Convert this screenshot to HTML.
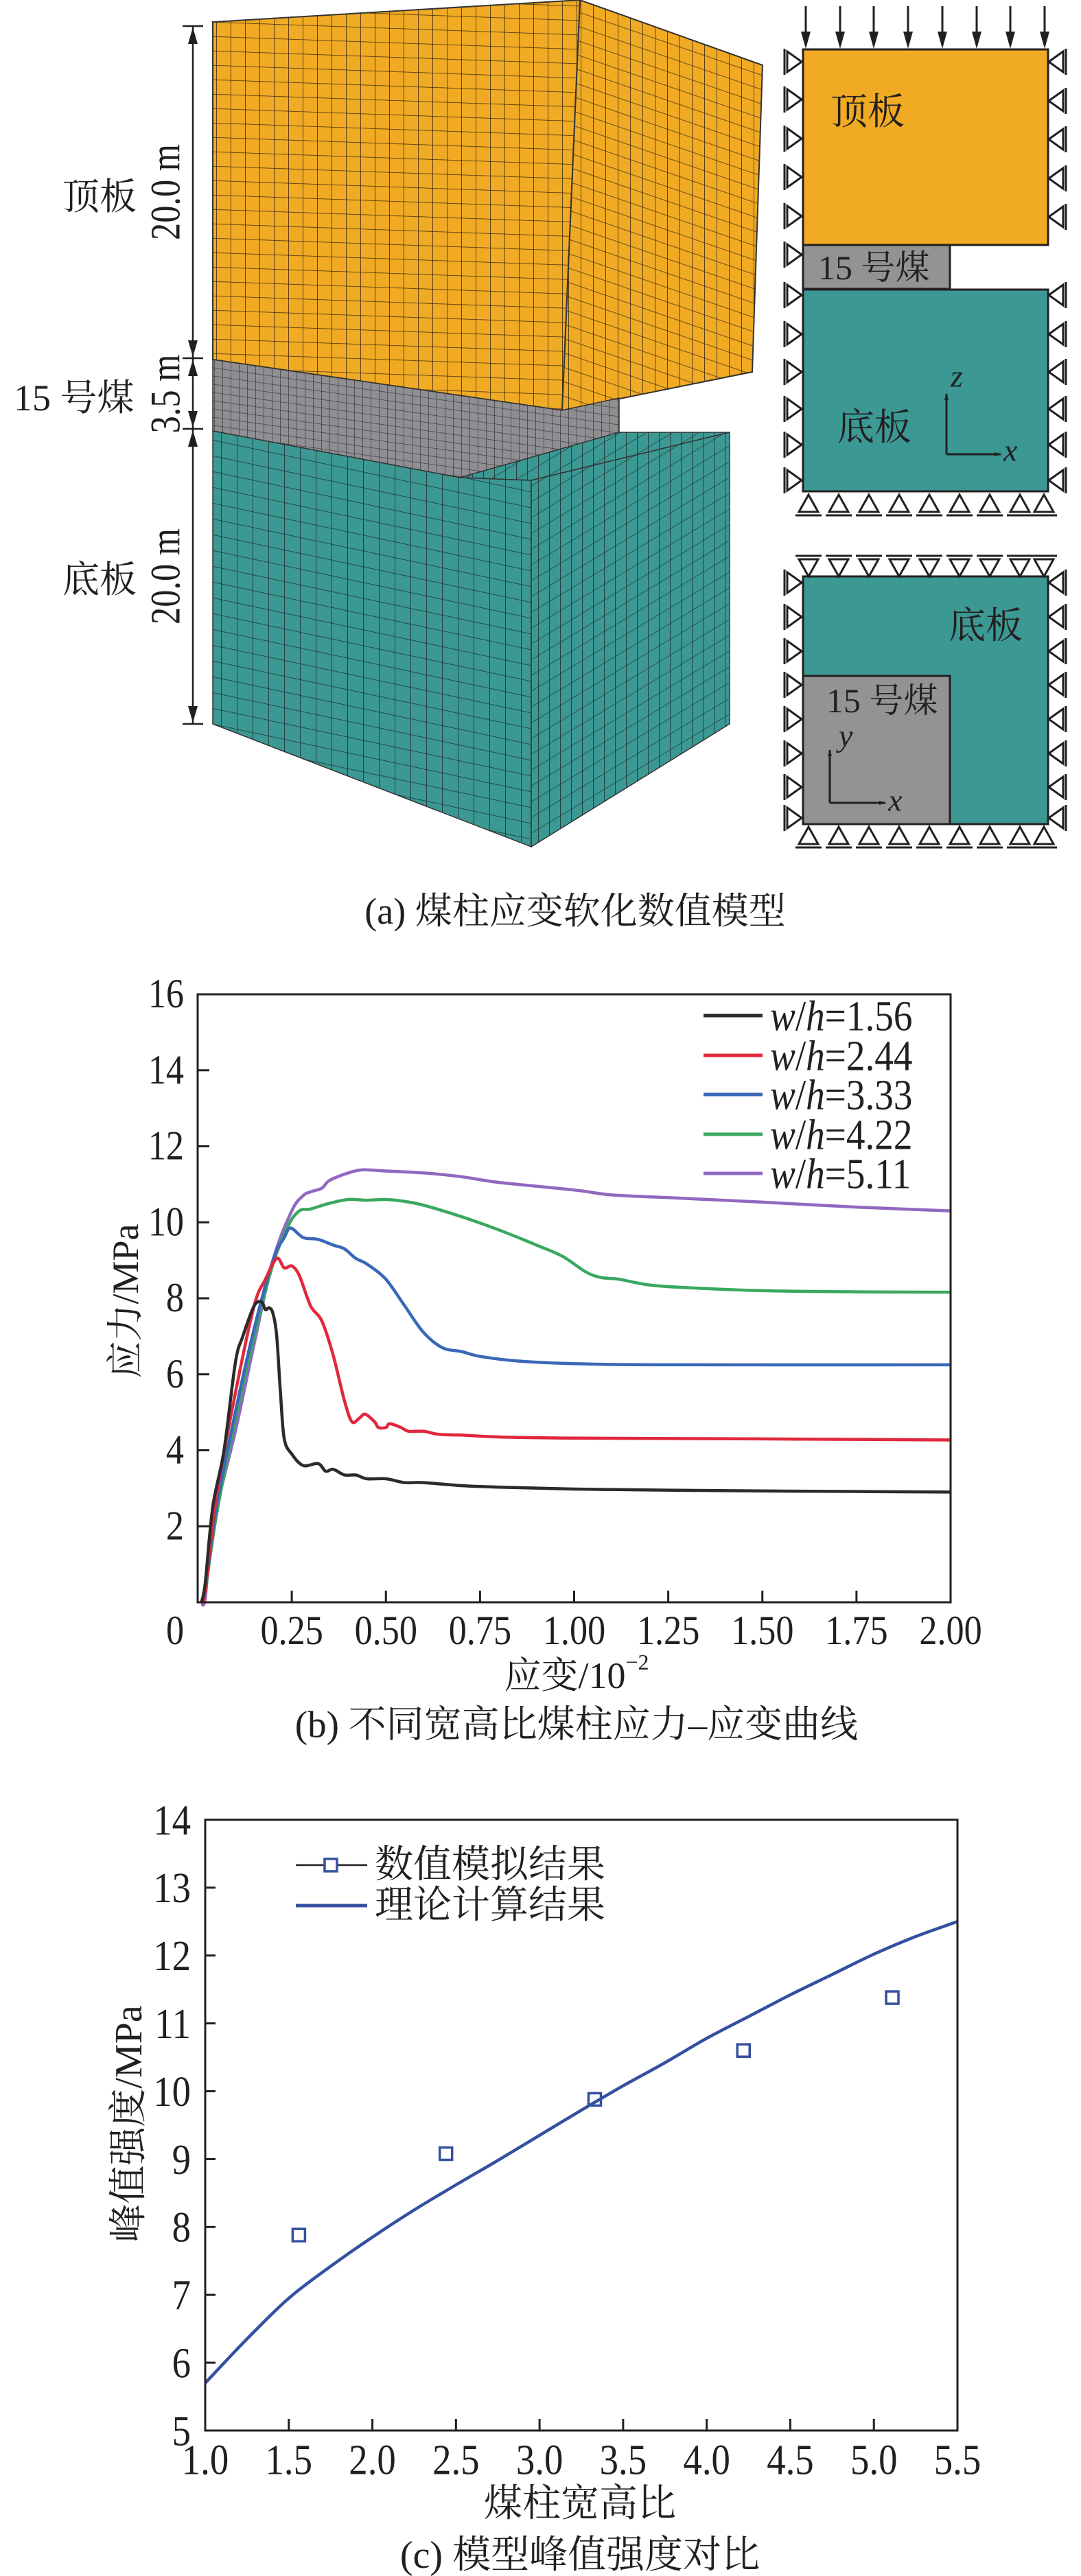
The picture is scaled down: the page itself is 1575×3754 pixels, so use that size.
<!DOCTYPE html>
<html><head><meta charset="utf-8">
<style>
body{margin:0;background:#fff}
svg{display:block}
.t{font-family:"Liberation Serif","Noto Serif CJK SC",serif;fill:#231f20}
</style></head>
<body>
<svg id="fig" width="1575" height="3754" viewBox="0 0 1575 3754" xmlns="http://www.w3.org/2000/svg">
<defs>
<pattern id="gO" width="21" height="21" patternUnits="userSpaceOnUse" patternTransform="skewY(2)"><rect width="21" height="21" fill="#F0AA24"/><path d="M0 0H21M0 0V21" stroke="#3a2a10" stroke-width="1.6"/></pattern>
<pattern id="gO2" width="18" height="21" patternUnits="userSpaceOnUse" patternTransform="skewY(19)"><rect width="18" height="21" fill="#F0AA24"/><path d="M0 0H18M0 0V21" stroke="#3a2a10" stroke-width="1.6"/></pattern>
<pattern id="gG" width="12" height="12" patternUnits="userSpaceOnUse" patternTransform="skewY(8)"><rect width="12" height="12" fill="#8f8f93"/><path d="M0 0H12M0 0V12" stroke="#333" stroke-width="1.3"/></pattern>
<pattern id="gT" width="23" height="23" patternUnits="userSpaceOnUse" patternTransform="skewY(12)"><rect width="23" height="23" fill="#3C9893"/><path d="M0 0H23M0 0V23" stroke="#1d2f2e" stroke-width="1.6"/></pattern>
<pattern id="gT2" width="16" height="23" patternUnits="userSpaceOnUse" patternTransform="skewY(-31)"><rect width="16" height="23" fill="#3C9893"/><path d="M0 0H16M0 0V23" stroke="#1d2f2e" stroke-width="1.6"/></pattern>
<marker id="ah" viewBox="0 0 10 10" refX="9" refY="5" markerWidth="10" markerHeight="10" orient="auto" markerUnits="userSpaceOnUse"><path d="M0 2L10 5L0 8Z" fill="#231f20"/></marker>
</defs>

<g>
<polygon points="310,32 845,0 819,598 310,524" fill="url(#gO)" stroke="#333" stroke-width="2"/>
<polygon points="845,0 1111,95 1096,542 819,598" fill="url(#gO2)" stroke="#333" stroke-width="2"/>
<polygon points="310,524 819,598 902,580 902,632 670,696 310,628" fill="url(#gG)" stroke="#333" stroke-width="1.5"/>
<polygon points="670,696 902,630 1063,630 774,700" fill="url(#gT2)" stroke="#333" stroke-width="1.5"/>
<polygon points="310,628 670,696 774,700 774,1234 310,1055" fill="url(#gT)" stroke="#333" stroke-width="1.5"/>
<polygon points="774,700 1063,630 1063,1055 774,1234" fill="url(#gT2)" stroke="#333" stroke-width="1.5"/>
</g>
<g stroke="#231f20" stroke-width="2.5">
<line x1="281" y1="38" x2="281" y2="1055"/>
<line x1="266" y1="38" x2="296" y2="38"/>
<line x1="266" y1="522" x2="296" y2="522"/>
<line x1="266" y1="625" x2="296" y2="625"/>
<line x1="266" y1="1055" x2="296" y2="1055"/>
<path d="M281 40l-7 24h14zM281 520l-7 -24h14zM281 524l-7 24h14zM281 623l-7 -24h14zM281 627l-7 24h14zM281 1053l-7 -24h14z" fill="#231f20" stroke="none"/>
</g>
<text class="t" transform="translate(242,280) rotate(-90) scale(0.9,1.1)" font-size="56" text-anchor="middle" dominant-baseline="central">20.0 m</text>
<text class="t" transform="translate(242,574) rotate(-90) scale(0.9,1.1)" font-size="56" text-anchor="middle" dominant-baseline="central">3.5 m</text>
<text class="t" transform="translate(242,840) rotate(-90) scale(0.9,1.1)" font-size="56" text-anchor="middle" dominant-baseline="central">20.0 m</text>
<text class="t" x="91" y="287" font-size="54" dominant-baseline="central">顶板</text>
<text class="t" x="20" y="580" font-size="54" dominant-baseline="central">15 号煤</text>
<text class="t" x="91" y="845" font-size="54" dominant-baseline="central">底板</text>

<g id="diag">
<rect x="1170" y="72" width="357" height="285" fill="#F0AA24" stroke="#231f20" stroke-width="3"/>
<rect x="1170" y="357" width="214" height="64" fill="#939393" stroke="#231f20" stroke-width="3"/>
<rect x="1170" y="422" width="357" height="294" fill="#3C9893" stroke="#231f20" stroke-width="3"/>
<text class="t" x="1210" y="163" font-size="54" dominant-baseline="central">顶板</text>
<text class="t" x="1192" y="390" font-size="50" dominant-baseline="central">15 号煤</text>
<text class="t" x="1220" y="623" font-size="54" dominant-baseline="central">底板</text>
<line x1="1379" y1="662" x2="1379" y2="574" stroke="#231f20" stroke-width="3" marker-end="url(#ah)"/>
<line x1="1379" y1="662" x2="1458" y2="662" stroke="#231f20" stroke-width="3" marker-end="url(#ah)"/>
<text class="t" x="1385" y="548" font-size="46" font-style="italic" dominant-baseline="central">z</text>
<text class="t" x="1462" y="656" font-size="46" font-style="italic" dominant-baseline="central">x</text>

<rect x="1170" y="840" width="357" height="361" fill="#3C9893" stroke="#231f20" stroke-width="3"/>
<rect x="1170" y="985" width="214" height="216" fill="#939393" stroke="#231f20" stroke-width="3"/>
<text class="t" x="1382" y="912" font-size="54" dominant-baseline="central">底板</text>
<text class="t" x="1204" y="1021" font-size="50" dominant-baseline="central">15 号煤</text>
<line x1="1209" y1="1170" x2="1209" y2="1093" stroke="#231f20" stroke-width="3" marker-end="url(#ah)"/>
<line x1="1209" y1="1170" x2="1290" y2="1170" stroke="#231f20" stroke-width="3" marker-end="url(#ah)"/>
<text class="t" x="1222" y="1072" font-size="46" font-style="italic" dominant-baseline="central">y</text>
<text class="t" x="1294" y="1166" font-size="46" font-style="italic" dominant-baseline="central">x</text>
</g>
<text class="t" x="838" y="1328" font-size="54" text-anchor="middle" dominant-baseline="central">(a) 煤柱应变软化数值模型</text>

<g id="chartB"></g>
<g id="chartC"></g>
</svg>

<script>
// ---- chart (b) data ----
const bLabels = ["w/h=1.56","w/h=2.44","w/h=3.33","w/h=4.22","w/h=5.11"];
const bColors = ["#2b2b2b","#e0283c","#3a68b8","#3aa860","#9168c0"];
const bStrain1 = [0.01,0.02,0.04,0.07,0.1,0.12,0.15,0.17,0.18,0.19,0.2,0.21,0.22,0.23,0.25,0.28,0.32,0.34,0.36,0.39,0.42,0.45,0.5,0.55,0.6,0.7,0.8,1.0,1.25,1.5,2.0];
const bStress1 = [0,0.5,2.5,4,6.3,7.0,7.8,7.9,7.7,7.75,7.6,7.0,5.5,4.3,3.9,3.6,3.65,3.45,3.5,3.35,3.35,3.25,3.25,3.15,3.15,3.07,3.03,2.98,2.95,2.93,2.9];
const bStrain2 = [0.01,0.02,0.05,0.1,0.15,0.18,0.21,0.23,0.25,0.27,0.3,0.33,0.36,0.39,0.41,0.43,0.445,0.47,0.48,0.5,0.51,0.54,0.56,0.6,0.64,0.7,0.8,1.0,1.5,2.0];
const bStress2 = [0,0.3,2.8,5.5,7.8,8.5,9.05,8.8,8.85,8.6,7.8,7.4,6.5,5.3,4.75,4.85,4.95,4.75,4.6,4.6,4.7,4.6,4.5,4.5,4.42,4.4,4.35,4.32,4.3,4.27];
const bStrain3 = [0.01,0.02,0.05,0.1,0.15,0.2,0.23,0.247,0.28,0.32,0.36,0.39,0.42,0.45,0.5,0.55,0.6,0.65,0.7,0.75,0.85,1.0,1.25,2.0];
const bStress3 = [0,0.3,2.5,5,7.2,9.0,9.6,9.85,9.6,9.55,9.4,9.3,9.05,8.9,8.5,7.8,7.1,6.7,6.6,6.47,6.35,6.28,6.25,6.25];
const bStrain4 = [0.01,0.02,0.05,0.1,0.15,0.2,0.24,0.27,0.3,0.35,0.4,0.45,0.5,0.55,0.6,0.7,0.8,0.9,0.97,1.03,1.07,1.12,1.2,1.3,1.5,1.75,2.0];
const bStress4 = [0,0.3,2.3,4.8,7,8.9,9.9,10.3,10.35,10.5,10.6,10.58,10.6,10.55,10.45,10.15,9.8,9.4,9.1,8.7,8.55,8.5,8.35,8.28,8.2,8.17,8.16];
const bStrain5 = [0.01,0.02,0.04,0.1,0.15,0.2,0.25,0.28,0.3,0.33,0.35,0.4,0.44,0.5,0.6,0.7,0.8,1.0,1.1,1.25,1.5,1.75,2.0];
const bStress5 = [0,0.1,2,4.5,6.8,9,10.3,10.7,10.8,10.9,11.1,11.3,11.38,11.35,11.3,11.2,11.05,10.85,10.72,10.65,10.53,10.4,10.3];
const bXTicks = [0.25,0.5,0.75,1.0,1.25,1.5,1.75,2.0];
const bXTickLabels = ["0.25","0.50","0.75","1.00","1.25","1.50","1.75","2.00"];
const bYTicks = [2,4,6,8,10,12,14,16];

// ---- chart (c) data ----
const cRatio = [1.56,2.44,3.33,4.22,5.11];
const cSim = [7.88,9.08,9.88,10.6,11.38];
const cTheoryX = [1.0,1.25,1.5,1.75,2.0,2.25,2.5,2.75,3.0,3.25,3.5,3.75,4.0,4.25,4.5,4.75,5.0,5.25,5.5];
const cTheoryY = [5.7,6.35,6.95,7.42,7.85,8.25,8.62,8.98,9.35,9.72,10.08,10.42,10.78,11.1,11.42,11.72,12.02,12.28,12.5];
const cXTicks = [1.0,1.5,2.0,2.5,3.0,3.5,4.0,4.5,5.0,5.5];
const cYTicks = [5,6,7,8,9,10,11,12,13,14];

const NS = "http://www.w3.org/2000/svg";
function mk(parent, tag, attrs, txt){
  const e = document.createElementNS(NS, tag);
  for (const k in attrs) e.setAttribute(k, attrs[k]);
  if (txt !== undefined) e.textContent = txt;
  parent.appendChild(e);
  return e;
}
function numText(parent, x, y, size, anchor, str){
  return mk(parent,"text",{class:"t",transform:"translate("+x+","+y+") scale(0.87,1)","font-size":size,"text-anchor":anchor,"dominant-baseline":"central"}, str);
}
function smooth(pts){
  let d = "M" + pts[0][0].toFixed(1) + " " + pts[0][1].toFixed(1);
  for (let i=0;i<pts.length-1;i++){
    const p0=pts[Math.max(0,i-1)], p1=pts[i], p2=pts[i+1], p3=pts[Math.min(pts.length-1,i+2)];
    const c1x=p1[0]+(p2[0]-p0[0])/6, c1y=p1[1]+(p2[1]-p0[1])/6;
    const c2x=p2[0]-(p3[0]-p1[0])/6, c2y=p2[1]-(p3[1]-p1[1])/6;
    d += "C"+c1x.toFixed(1)+" "+c1y.toFixed(1)+" "+c2x.toFixed(1)+" "+c2y.toFixed(1)+" "+p2[0].toFixed(1)+" "+p2[1].toFixed(1);
  }
  return d;
}

(function(){
  const g = document.getElementById("chartB");
  const L=288,R=1385,T=1449,B=2335;
  const xS = v => L + v/2.0*(R-L);
  const yS = v => B - v/16*(B-T);
  let e;
  bYTicks.forEach(v=>{
    if (v<16){
      e = mk(g,"line",{x1:L,y1:yS(v),x2:L+17,y2:yS(v),stroke:"#231f20","stroke-width":3});
      
      
    }
    e = numText(g, 268, yS(v), 60, "end", String(v));
    
    
  });
  bXTicks.forEach((v,i)=>{
    if (v<2){
      e = mk(g,"line",{x1:xS(v),y1:B,x2:xS(v),y2:B-17,stroke:"#231f20","stroke-width":3});
      
      
    }
    e = numText(g, xS(v), 2377, 60, "middle", bXTickLabels[i]);
    
    
  });
  e = numText(g, 255, 2377, 60, "middle", "0");
  
  

  const xs=[bStrain1,bStrain2,bStrain3,bStrain4,bStrain5], ys=[bStress1,bStress2,bStress3,bStress4,bStress5];
  [4,3,2,1,0].forEach(i=>{
    const pts = xs[i].map((x,j)=>[xS(x),yS(ys[i][j])]);
    e = mk(g,"path",{d:smooth(pts),fill:"none",stroke:bColors[i],"stroke-width":4.5,"stroke-linejoin":"round"});
    
    
  });
  e = mk(g,"rect",{x:L,y:T,width:R-L,height:B-T,fill:"none",stroke:"#231f20","stroke-width":3});
  
  

  const lg = mk(g,"g",{});
  
  
  const rows=[1480,1538,1595,1653,1710];
  bLabels.forEach((lab,i)=>{
    e = mk(lg,"line",{x1:1025,y1:rows[i],x2:1111,y2:rows[i],stroke:bColors[i],"stroke-width":5});
    
    
    const t = mk(lg,"text",{class:"t",transform:"translate(1122,"+rows[i]+") scale(0.92,1.05)","font-size":60,"dominant-baseline":"central"});
    
    
    mk(t,"tspan",{"font-style":"italic"},"w");
    mk(t,"tspan",{},"/");
    mk(t,"tspan",{"font-style":"italic"},"h");
    mk(t,"tspan",{},lab.slice(3));
  });
  e = mk(g,"text",{class:"t",transform:"translate(183,1896) rotate(-90)","font-size":54,"text-anchor":"middle","dominant-baseline":"central"},"应力/MPa");
  
  
  const xt = mk(g,"text",{class:"t",x:840,y:2442,"font-size":54,"text-anchor":"middle","dominant-baseline":"central"});
  
  
  mk(xt,"tspan",{},"应变/10");
  mk(xt,"tspan",{"font-size":32,dy:-20},"−2");
  e = mk(g,"text",{class:"t",x:840,y:2513,"font-size":55,"text-anchor":"middle","dominant-baseline":"central"},"(b) 不同宽高比煤柱应力–应变曲线");
  
  
})();

(function(){
  const g = document.getElementById("chartC");
  const L=299,R=1395,T=2652,B=3542;
  const xS = v => L + (v-1.0)/4.5*(R-L);
  const yS = v => B - (v-5)/9*(B-T);
  let e;
  cYTicks.forEach(v=>{
    if (v>5 && v<14){
      e = mk(g,"line",{x1:L,y1:yS(v),x2:L+15,y2:yS(v),stroke:"#231f20","stroke-width":3});
      
      
    }
    e = numText(g, 278, yS(v), 63, "end", String(v));
    
    
  });
  cXTicks.forEach(v=>{
    if (v>1 && v<5.5){
      e = mk(g,"line",{x1:xS(v),y1:B,x2:xS(v),y2:B-17,stroke:"#231f20","stroke-width":3});
      
      
    }
    e = numText(g, xS(v), 3584, 63, "middle", v.toFixed(1));
    
    
  });
  const pts = cTheoryX.map((x,j)=>[xS(x),yS(cTheoryY[j])]);
  e = mk(g,"path",{d:smooth(pts),fill:"none",stroke:"#3450a0","stroke-width":4.5});
  
  
  cRatio.forEach((x,i)=>{
    e = mk(g,"rect",{x:xS(x)-9,y:yS(cSim[i])-9,width:18,height:18,fill:"none",stroke:"#3450a0","stroke-width":3.5});
    
    
  });
  e = mk(g,"rect",{x:L,y:T,width:R-L,height:B-T,fill:"none",stroke:"#231f20","stroke-width":3});
  
  
  const lg = mk(g,"g",{});
  
  
  e = mk(lg,"line",{x1:431,y1:2718,x2:535,y2:2718,stroke:"#231f20","stroke-width":2.5});
  
  
  e = mk(lg,"rect",{x:473,y:2709,width:18,height:18,fill:"#fff",stroke:"#3450a0","stroke-width":3.5});
  
  
  e = mk(lg,"text",{class:"t",x:546,y:2718,"font-size":56,"dominant-baseline":"central"},"数值模拟结果");
  
  
  e = mk(lg,"line",{x1:431,y1:2777,x2:535,y2:2777,stroke:"#3450a0","stroke-width":5});
  
  
  e = mk(lg,"text",{class:"t",x:546,y:2777,"font-size":56,"dominant-baseline":"central"},"理论计算结果");
  
  
  e = mk(g,"text",{class:"t",transform:"translate(188,3095) rotate(-90)","font-size":56,"text-anchor":"middle","dominant-baseline":"central"},"峰值强度/MPa");
  
  
  e = mk(g,"text",{class:"t",x:845,y:3649,"font-size":56,"text-anchor":"middle","dominant-baseline":"central"},"煤柱宽高比");
  
  
  e = mk(g,"text",{class:"t",x:845,y:3724,"font-size":56,"text-anchor":"middle","dominant-baseline":"central"},"(c) 模型峰值强度对比");
  
  
})();

(function(){
  const g = document.getElementById("diag");
  const arrowX = [1174,1224,1273,1323,1373,1423,1472,1522];
  let e;
  arrowX.forEach(x=>{
    e = mk(g,"path",{d:"M"+x+" 9V50",stroke:"#231f20","stroke-width":3});
    
    
    e = mk(g,"path",{d:"M"+(x-7)+" 46L"+x+" 71L"+(x+7)+" 46Z",fill:"#231f20"});
    
    
  });
  function rightTri(y){
    e = mk(g,"path",{d:"M1143 "+(y-19)+"V"+(y+19)+"M1147 "+(y-15)+"L1168 "+y+"L1147 "+(y+15)+"Z",fill:"none",stroke:"#231f20","stroke-width":3});
    
    
  }
  function leftTri(y){
    e = mk(g,"path",{d:"M1553 "+(y-19)+"V"+(y+19)+"M1549 "+(y-15)+"L1528 "+y+"L1549 "+(y+15)+"Z",fill:"none",stroke:"#231f20","stroke-width":3});
    
    
  }
  function upTri(x,y){
    e = mk(g,"path",{d:"M"+(x-19)+" "+(y+30)+"H"+(x+19)+"M"+(x-14)+" "+(y+25)+"L"+x+" "+y+"L"+(x+14)+" "+(y+25)+"Z",fill:"none",stroke:"#231f20","stroke-width":3});
    
    
  }
  function downTri(x,y){
    e = mk(g,"path",{d:"M"+(x-19)+" "+(y-30)+"H"+(x+19)+"M"+(x-14)+" "+(y-25)+"L"+x+" "+y+"L"+(x+14)+" "+(y-25)+"Z",fill:"none",stroke:"#231f20","stroke-width":3});
    
    
  }
  [90,145,202,258,315,371,430,487,542,596,648,700].forEach(rightTri);
  [90,147,203,260,316,430,487,542,596,648,700].forEach(leftTri);
  const bx=[1178,1222,1266,1310,1354,1398,1442,1486,1521];
  bx.forEach(x=>upTri(x,721));
  bx.forEach(x=>downTri(x,840));
  [849,899,949,998,1048,1098,1147,1192].forEach(rightTri);
  [849,899,949,998,1048,1098,1147,1192].forEach(leftTri);
  bx.forEach(x=>upTri(x,1205));
})();
</script>
</body></html>
